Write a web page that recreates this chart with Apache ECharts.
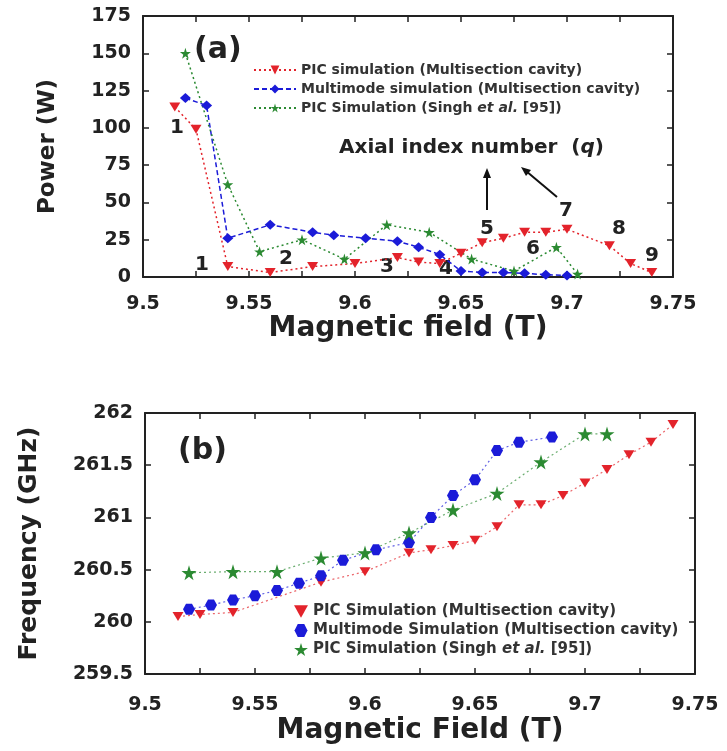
<!DOCTYPE html>
<html>
<head>
<meta charset="utf-8">
<script src="https://cdn.jsdelivr.net/npm/echarts@6/dist/echarts.min.js"></script>
<style>
html,body{margin:0;padding:0;background:#fff;}
#c{width:727px;height:751px;}
</style>
</head>
<body>
<div id="c"></div>
<script>
// ---- Panel (a): Power vs magnetic field ----
var picMultiA_B = [9.515, 9.525, 9.54, 9.56, 9.58, 9.60, 9.62, 9.63, 9.64, 9.65, 9.66, 9.67, 9.68, 9.69, 9.70, 9.72, 9.73, 9.74];
var picMultiA_P = [114, 99, 7, 3, 7, 9, 13, 10, 9, 16, 23, 26, 30, 30, 32, 21, 9, 3];
var multimodeA_B = [9.52, 9.53, 9.54, 9.56, 9.58, 9.59, 9.605, 9.62, 9.63, 9.64, 9.65, 9.66, 9.67, 9.68, 9.69, 9.70];
var multimodeA_P = [120, 115, 26, 35, 30, 28, 26, 24, 20, 15, 4, 3, 3, 2.5, 1.5, 1];
var singhA_B = [9.52, 9.54, 9.555, 9.575, 9.595, 9.615, 9.635, 9.655, 9.675, 9.695, 9.705];
var singhA_P = [150, 62, 17, 25, 12, 35, 30, 12, 4, 20, 2];

// ---- Panel (b): Frequency vs magnetic field ----
var picMultiB_B = [9.515, 9.525, 9.54, 9.58, 9.60, 9.62, 9.63, 9.64, 9.65, 9.66, 9.67, 9.68, 9.69, 9.70, 9.71, 9.72, 9.73, 9.74];
var picMultiB_F = [260.05, 260.07, 260.09, 260.38, 260.48, 260.66, 260.69, 260.73, 260.78, 260.91, 261.12, 261.12, 261.21, 261.33, 261.46, 261.60, 261.72, 261.89];
var multimodeB_B = [9.52, 9.53, 9.54, 9.55, 9.56, 9.57, 9.58, 9.59, 9.605, 9.62, 9.63, 9.64, 9.65, 9.66, 9.67, 9.685];
var multimodeB_F = [260.12, 260.16, 260.21, 260.25, 260.30, 260.37, 260.44, 260.59, 260.69, 260.76, 261.00, 261.21, 261.36, 261.64, 261.72, 261.77];
var singhB_B = [9.52, 9.54, 9.56, 9.58, 9.60, 9.62, 9.64, 9.66, 9.68, 9.70, 9.71];
var singhB_F = [260.47, 260.48, 260.48, 260.61, 260.66, 260.85, 261.07, 261.23, 261.53, 261.80, 261.80];

// axial index labels (q) in panel (a)
var qLabels = ['1', '1', '2', '3', '4', '5', '6', '7', '8', '9'];

var nameA1 = 'PIC simulation (Multisection cavity)';
var nameA2 = 'Multimode simulation (Multisection cavity)';
var nameA3 = 'PIC Simulation (Singh et al. [95])';
var nameB1 = 'PIC Simulation (Multisection cavity)';
var nameB2 = 'Multimode Simulation (Multisection cavity)';
var nameB3 = 'PIC Simulation (Singh et al. [95])';

function zip(a, b) { return a.map(function (v, i) { return [v, b[i]]; }); }

var FONT = 'DejaVu Sans';
var RED = '#e3232b', BLUE = '#1b1bd8', GREEN = '#2b8a32';
var STAR = 'path://M50,0 L61,35 L98,35 L68,57 L79,91 L50,70 L21,91 L32,57 L2,35 L39,35 Z';
var HEX = 'path://M25,0 L75,0 L100,50 L75,100 L25,100 L0,50 Z';

function xAx(grid, pos, show, margin) {
  return {
    type: 'value', gridIndex: grid, position: pos, min: 9.5, max: 9.75, interval: 0.025,
    axisLine: { show: true, onZero: false, lineStyle: { color: '#222', width: 2 } },
    axisTick: { show: true, inside: true, length: 6, lineStyle: { color: '#222', width: 1.5 } },
    splitLine: { show: false },
    axisLabel: {
      show: show, margin: margin || 18, color: '#222', fontFamily: FONT, fontWeight: 'bold', fontSize: 19,
      formatter: function (v) { var k = Math.round(v * 1000); return (k % 50 === 0) ? String(+(k / 1000).toFixed(2)) : ''; }
    }
  };
}
function yAx(grid, pos, min, max, interval, show) {
  return {
    type: 'value', gridIndex: grid, position: pos, min: min, max: max, interval: interval,
    axisLine: { show: true, onZero: false, lineStyle: { color: '#222', width: 2 } },
    axisTick: { show: true, inside: true, length: 6, lineStyle: { color: '#222', width: 1.5 } },
    splitLine: { show: false },
    axisLabel: { show: show, margin: 12, color: '#222', fontFamily: FONT, fontWeight: 'bold', fontSize: 19 }
  };
}

var xa0 = xAx(0, 'bottom', true, 18);
xa0.name = 'Magnetic field (T)'; xa0.nameLocation = 'middle'; xa0.nameGap = 35;
xa0.nameTextStyle = { fontFamily: FONT, fontWeight: 'bold', fontSize: 28, color: '#222' };
var xa1 = xAx(0, 'top', false);
var xb0 = xAx(1, 'bottom', true, 22);
xb0.name = 'Magnetic Field (T)'; xb0.nameLocation = 'middle'; xb0.nameGap = 43;
xb0.nameTextStyle = { fontFamily: FONT, fontWeight: 'bold', fontSize: 28, color: '#222' };
var xb1 = xAx(1, 'top', false);

var ya0 = yAx(0, 'left', 0, 175, 25, true);
ya0.name = 'Power (W)'; ya0.nameLocation = 'middle'; ya0.nameGap = 83;
ya0.nameTextStyle = { fontFamily: FONT, fontWeight: 'bold', fontSize: 23, color: '#222' };
var ya1 = yAx(0, 'right', 0, 175, 25, false);
var yb0 = yAx(1, 'left', 259.5, 262, 0.5, true);
yb0.name = 'Frequency (GHz)'; yb0.nameLocation = 'middle'; yb0.nameGap = 103;
yb0.nameTextStyle = { fontFamily: FONT, fontWeight: 'bold', fontSize: 25, color: '#222' };
var yb1 = yAx(1, 'right', 259.5, 262, 0.5, false);

var chart = echarts.init(document.getElementById('c'));
var qPos = [[177,128],[202,265],[286,259],[387,267],[446,269],[487,229],[533,249],[566,211],[619,229],[652,256]];

var graphics = [
  { type: 'text', left: 194, top: 35, style: { text: '(a)', fontFamily: FONT, fontWeight: 'bold', fontSize: 30, fill: '#222' } },
  { type: 'text', left: 178, top: 436, style: { text: '(b)', fontFamily: FONT, fontWeight: 'bold', fontSize: 30, fill: '#222' } },
  { type: 'text', left: 339, top: 138, style: { text: 'Axial index number  ({q|q})', fontFamily: FONT, fontWeight: 'bold', fontSize: 20, fill: '#222',
      rich: { q: { fontStyle: 'italic', fontWeight: 'bold', fontFamily: FONT, fontSize: 20, fill: '#222' } } } },
  { type: 'line', shape: { x1: 487, y1: 210, x2: 487, y2: 174 }, style: { stroke: '#111', lineWidth: 2 } },
  { type: 'polygon', shape: { points: [[487,168],[483,178],[491,178]] }, style: { fill: '#111' } },
  { type: 'line', shape: { x1: 557, y1: 197, x2: 526, y2: 171 }, style: { stroke: '#111', lineWidth: 2 } },
  { type: 'polygon', shape: { points: [[521,167],[531,170],[526,176]] }, style: { fill: '#111' } }
];
qLabels.forEach(function (t, i) {
  graphics.push({ type: 'text', x: qPos[i][0], y: qPos[i][1], style: { text: t, fontFamily: FONT, fontWeight: 'bold', fontSize: 20, fill: '#222', textAlign: 'center', textVerticalAlign: 'middle' } });
});

chart.setOption({
  backgroundColor: '#fff',
  animation: false,
  grid: [
    { left: 143, top: 16, width: 530, height: 261 },
    { left: 145, top: 413, width: 550, height: 261 }
  ],
  xAxis: [xa0, xa1, xb0, xb1],
  yAxis: [ya0, ya1, yb0, yb1],
  legend: [
    { orient: 'vertical', left: 248, top: 58, itemGap: 5, itemWidth: 42, itemHeight: 11,
      data: [nameA1, nameA2, nameA3],
      textStyle: { fontFamily: FONT, fontWeight: 'bold', fontSize: 14, color: '#333',
        rich: { i: { fontStyle: 'italic', fontWeight: 'bold', fontFamily: FONT, fontSize: 14, color: '#333' } } },
      formatter: function (n) { return n.replace('et al.', '{i|et al.}'); } },
    { orient: 'vertical', left: 289, top: 599, itemGap: 4, itemWidth: 14, itemHeight: 13,
      data: [
        { name: nameB1 + ' ', icon: 'path://M0,0 L100,0 L50,90 Z', itemStyle: { color: RED } },
        { name: nameB2, icon: HEX, itemStyle: { color: BLUE } },
        { name: nameB3 + ' ', icon: STAR, itemStyle: { color: GREEN } }
      ],
      textStyle: { fontFamily: FONT, fontWeight: 'bold', fontSize: 15, color: '#333',
        rich: { i: { fontStyle: 'italic', fontWeight: 'bold', fontFamily: FONT, fontSize: 15, color: '#333' } } },
      formatter: function (n) { return n.trim().replace('et al.', '{i|et al.}'); } }
  ],
  graphic: graphics,
  series: [
    { name: nameA1, type: 'line', xAxisIndex: 0, yAxisIndex: 0, data: zip(picMultiA_B, picMultiA_P),
      symbol: 'triangle', symbolRotate: 180, symbolSize: [11, 9], itemStyle: { color: RED },
      lineStyle: { color: RED, width: 1.5, type: [2, 3] } },
    { name: nameA2, type: 'line', xAxisIndex: 0, yAxisIndex: 0, data: zip(multimodeA_B, multimodeA_P),
      symbol: 'diamond', symbolSize: [11, 10], itemStyle: { color: BLUE },
      lineStyle: { color: BLUE, width: 1.5, type: [5, 3] } },
    { name: nameA3, type: 'line', xAxisIndex: 0, yAxisIndex: 0, data: zip(singhA_B, singhA_P),
      symbol: STAR, symbolSize: 11, itemStyle: { color: GREEN },
      lineStyle: { color: GREEN, width: 1.5, type: [2, 3] } },
    { name: nameB1 + ' ', type: 'line', xAxisIndex: 2, yAxisIndex: 2, data: zip(picMultiB_B, picMultiB_F),
      symbol: 'triangle', symbolRotate: 180, symbolSize: [11, 9], itemStyle: { color: RED },
      lineStyle: { color: RED, width: 1.2, type: [2, 3], opacity: 0.7 } },
    { name: nameB2, type: 'line', xAxisIndex: 2, yAxisIndex: 2, data: zip(multimodeB_B, multimodeB_F),
      symbol: HEX, symbolSize: [12, 11], itemStyle: { color: BLUE },
      lineStyle: { color: BLUE, width: 1.2, type: [2, 3], opacity: 0.7 } },
    { name: nameB3 + ' ', type: 'line', xAxisIndex: 2, yAxisIndex: 2, data: zip(singhB_B, singhB_F),
      symbol: STAR, symbolSize: 15, itemStyle: { color: GREEN },
      lineStyle: { color: GREEN, width: 1.2, type: [2, 3], opacity: 0.7 } }
  ]
});
</script>
</body>
</html>
